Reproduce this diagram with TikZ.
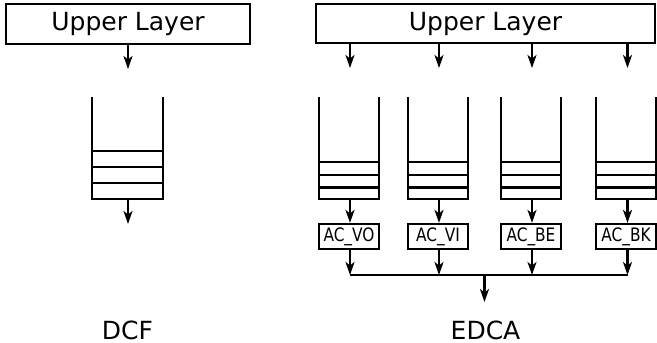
\documentclass[tikz,border=0pt]{standalone}
\usepackage{fontspec}
\usepackage{graphicx}
\setmainfont{DejaVu Sans}
\usetikzlibrary{arrows.meta,calc}
\tikzset{
  ln/.style={line width=2.2pt, black},
  arr/.style={ln, -{Stealth[length=13pt,width=9pt,inset=3.5pt]}},
  bigbox/.style={draw, ln, rectangle, inner sep=0pt, font=\fontsize{25}{30}\selectfont},
  acbox/.style={draw, ln, rectangle, inner sep=0pt, minimum width=60pt, minimum height=25pt, font=\fontsize{18.5}{20}\selectfont},
  queue/.style={rectangle, inner sep=0pt, minimum width=#1, minimum height=102pt},
  lbl/.style={anchor=base, inner sep=0pt, font=\fontsize{25}{30}\selectfont}
}
\newcommand{\drawqueue}[4]{% name, y1, y2, y3
  \draw[ln] (#1.north west) -- (#1.south west) -- (#1.south east) -- (#1.north east);
  \draw[ln] (#1.west |- 0,#2) -- (#1.east |- 0,#2);
  \draw[ln] (#1.west |- 0,#3) -- (#1.east |- 0,#3);
  \draw[ln] (#1.west |- 0,#4) -- (#1.east |- 0,#4);
}
\begin{document}
\begin{tikzpicture}[x=1pt,y=-1pt]
\useasboundingbox (0,0) rectangle (657,343);
% ---- DCF side ----
\node[bigbox, minimum width=244pt, minimum height=40pt] (ul1) at (128,24) {Upper Layer};
\coordinate (a1) at (128,69);
\draw[arr] (ul1.south -| a1) -- (a1);
\node[queue=71pt] (dq) at (127.5,148) {};
\drawqueue{dq}{151}{167}{183}
\coordinate (d1) at (128,224);
\draw[arr] (dq.south -| d1) -- (d1);
\node[lbl] (dcf) at (127.5,339) {DCF};
% ---- EDCA side ----
\node[bigbox, minimum width=339pt, minimum height=39pt] (ul2) at (485.5,23.5) {Upper Layer};
\foreach \i/\cx/\ax/\name in {1/349/350/AC\_VO, 2/438/439/AC\_VI, 3/531/532/AC\_BE, 4/626/627.5/AC\_BK}{
  \coordinate (t\i) at (\ax,68);
  \draw[arr] (ul2.south -| t\i) -- (t\i);
  \node[queue=60pt] (q\i) at (\cx,148) {};
  \drawqueue{q\i}{162}{175}{187.5}
  \node[acbox] (ac\i) at (\cx,236.5) {\scalebox{0.83}[1]{\name}};
  \draw[arr] (q\i.south -| t\i) -- (ac\i.north -| t\i);
  \coordinate (j\i) at (\ax,275);
  \draw[arr] (ac\i.south -| t\i) -- (j\i);
}
\draw[ln] (j1) -- (j4);
\coordinate (jm) at (484.5,275);
\coordinate (out) at (484.5,302);
\draw[arr] (jm) -- (out);
\node[lbl] (edca) at (485.5,339) {EDCA};
\end{tikzpicture}
\end{document}
